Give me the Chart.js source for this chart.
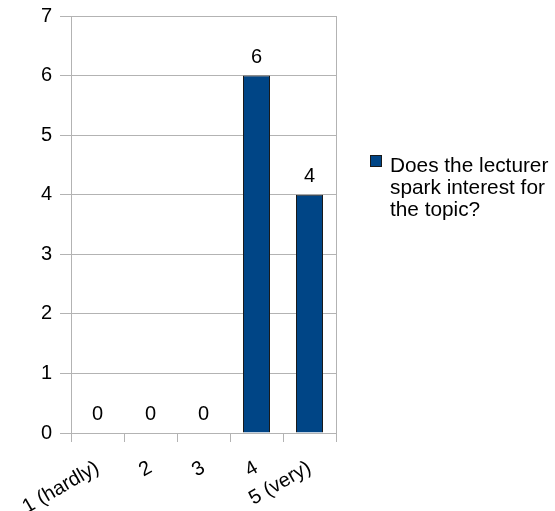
<!DOCTYPE html>
<html>
<head>
<meta charset="utf-8">
<script src="https://cdn.jsdelivr.net/npm/chart.js@4.4.0/dist/chart.umd.min.js"></script>
<style>
  html, body { margin: 0; padding: 0; background: #fff; }
  #wrap { width: 555px; height: 511px; }
</style>
</head>
<body>
<div id="wrap"><canvas id="chart" width="555" height="511"></canvas></div>
<script>
const categories = ['1 (hardly)', '2', '3', '4', '5 (very)'];
const answers = [0, 0, 0, 6, 4];
const seriesName = 'Does the lecturer spark interest for the topic?';
const legendLines = ['Does the lecturer', 'spark interest for', 'the topic?'];
const yTicks = [0, 1, 2, 3, 4, 5, 6, 7];

const FONT = '"Liberation Sans", Arial, sans-serif';
const BAR = '#004586';
const GRID = '#b3b3b3';

// values printed above each bar
const valueLabels = {
  id: 'valueLabels',
  afterDatasetsDraw(chart) {
    const ctx = chart.ctx;
    const meta = chart.getDatasetMeta(0);
    ctx.save();
    ctx.font = '20px ' + FONT;
    ctx.fillStyle = '#000';
    ctx.textAlign = 'center';
    ctx.textBaseline = 'alphabetic';
    meta.data.forEach((bar, i) => {
      ctx.fillText(String(answers[i]), bar.x, bar.y - 13);
    });
    ctx.restore();
  }
};

// legend on the right, wrapped like the original
const sideLegend = {
  id: 'sideLegend',
  afterDraw(chart) {
    const ctx = chart.ctx;
    const x = chart.chartArea.right + 34;
    const y = 155;
    ctx.save();
    ctx.fillStyle = BAR;
    ctx.fillRect(x, y, 11, 11);
    ctx.strokeStyle = '#1a1a1a';
    ctx.lineWidth = 1;
    ctx.strokeRect(x + 0.5, y + 0.5, 11, 11);
    ctx.font = '20.8px ' + FONT;
    ctx.fillStyle = '#000';
    ctx.textBaseline = 'alphabetic';
    legendLines.forEach((line, i) => {
      ctx.fillText(line, x + 20, y + 17 + i * 22);
    });
    ctx.restore();
  }
};

new Chart(document.getElementById('chart'), {
  type: 'bar',
  data: {
    labels: categories,
    datasets: [{
      label: seriesName,
      data: answers,
      backgroundColor: BAR,
      borderColor: '#1a1a1a',
      borderWidth: 1,
      barPercentage: 0.51,
      categoryPercentage: 1
    }]
  },
  plugins: [valueLabels, sideLegend],
  options: {
    responsive: false,
    animation: false,
    layout: { padding: { top: 16, right: 219, left: 0, bottom: 0 } },
    plugins: {
      legend: { display: false },
      tooltip: { enabled: false }
    },
    scales: {
      x: {
        offset: true,
        grid: {
          offset: true,
          drawOnChartArea: false,
          color: GRID,
          tickLength: 9
        },
        border: { color: GRID },
        ticks: {
          color: '#000',
          font: { family: FONT, size: 20 },
          autoSkip: false,
          minRotation: 30,
          maxRotation: 30,
          padding: 14
        },
        afterFit(scale) { scale.height = 78; }
      },
      y: {
        min: 0,
        max: 7,
        afterBuildTicks(scale) { scale.ticks = yTicks.map(v => ({ value: v })); },
        grid: { color: GRID, tickLength: 11 },
        border: { color: GRID },
        ticks: {
          color: '#000',
          font: { family: FONT, size: 20, lineHeight: 0.8 },
          padding: 8
        },
        afterFit(scale) { scale.width = 71; }
      },
      y2: {
        position: 'right',
        min: 0,
        max: 7,
        grid: { drawOnChartArea: false, drawTicks: false },
        border: { color: GRID },
        ticks: { display: false },
        afterFit(scale) { scale.width = 0; }
      }
    }
  }
});
</script>
</body>
</html>
